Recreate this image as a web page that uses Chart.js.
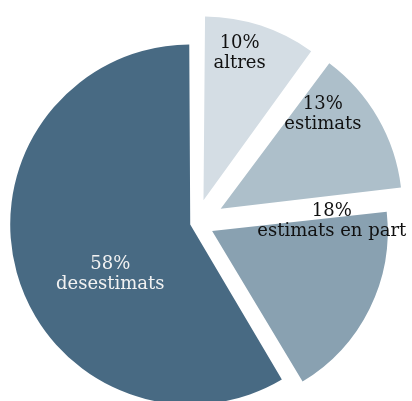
<!DOCTYPE html>
<html>
<head>
<meta charset="utf-8">
<script src="https://cdn.jsdelivr.net/npm/chart.js@4"></script>
<style>
  html, body { margin: 0; padding: 0; background: #fff; }
  #wrap { width: 412px; height: 401px; position: relative; }
</style>
</head>
<body>
<div id="wrap"><canvas id="pie"></canvas></div>
<script>
// shares of each category, clockwise from 12 o'clock
const categories = ['altres', 'estimats', 'estimats en part', 'desestimats'];
const shares = [10, 13, 18, 58];
const percentLabels = ['10%', '13%', '18%', '58%'];

const sliceColors = ['#d4dde4', '#adbfca', '#89a1b1', '#486a83'];
const textColors = ['#111', '#111', '#111', '#f2f2f2'];
// explode distance per slice (chart.js moves an arc by offset / 4)
const explode = [96, 114, 72, 24];
// where the two-line label sits inside its slice: fraction along the arc, fraction of radius
const labelAngleFrac = [0.38, 0.23, 0.025, 0.423];
const labelRadiusFrac = [0.87, 0.80, 0.69, 0.54];

const sliceLabels = {
    id: 'sliceLabels',
    afterDatasetsDraw(chart) {
        const ctx = chart.ctx;
        const meta = chart.getDatasetMeta(0);
        ctx.save();
        ctx.font = '18px "DejaVu Serif", serif';
        ctx.textAlign = 'center';
        ctx.textBaseline = 'middle';
        meta.data.forEach((arc, i) => {
            const { x, y, startAngle, endAngle, outerRadius } =
                arc.getProps(['x', 'y', 'startAngle', 'endAngle', 'outerRadius'], true);
            const mid = (startAngle + endAngle) / 2;
            const shift = (arc.options.offset || 0) / 4;
            const cx = x + Math.cos(mid) * shift;
            const cy = y + Math.sin(mid) * shift;
            const a = startAngle + labelAngleFrac[i] * (endAngle - startAngle);
            const px = cx + Math.cos(a) * labelRadiusFrac[i] * outerRadius;
            const py = cy + Math.sin(a) * labelRadiusFrac[i] * outerRadius;
            ctx.fillStyle = textColors[i];
            ctx.fillText(percentLabels[i], px, py - 10);
            ctx.fillText(categories[i], px, py + 10);
        });
        ctx.restore();
    }
};

new Chart(document.getElementById('pie'), {
    type: 'pie',
    data: {
        labels: categories,
        datasets: [{
            data: shares,
            backgroundColor: sliceColors,
            borderWidth: 0,
            offset: explode,
        }]
    },
    options: {
        responsive: true,
        maintainAspectRatio: false,
        animation: false,
        radius: 174,
        layout: { padding: { left: 0, right: 20, top: 45, bottom: 0 } },
        plugins: {
            legend: { display: false },
            tooltip: { enabled: false },
        },
        events: [],
    },
    plugins: [sliceLabels],
});
</script>
</body>
</html>
